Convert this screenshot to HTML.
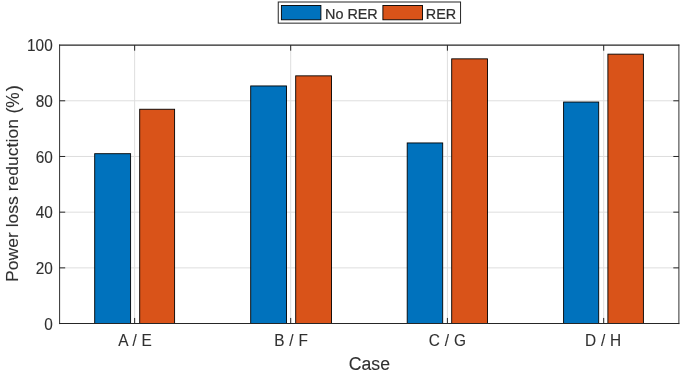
<!DOCTYPE html>
<html><head><meta charset="utf-8"><title>Power loss reduction</title>
<style>html,body{margin:0;padding:0;background:#fff;overflow:hidden}svg{display:block;will-change:transform}text{font-family:"Liberation Sans",sans-serif;fill:#303030;stroke:#303030;stroke-width:0.1}</style></head><body>
<svg width="685" height="371" viewBox="0 0 685 371">
<rect x="0" y="0" width="685" height="371" fill="#ffffff"/>
<g stroke="#dedede" stroke-width="1" fill="none">
<line x1="59.60" y1="267.86" x2="678.90" y2="267.86"/>
<line x1="59.60" y1="212.17" x2="678.90" y2="212.17"/>
<line x1="59.60" y1="156.48" x2="678.90" y2="156.48"/>
<line x1="59.60" y1="100.79" x2="678.90" y2="100.79"/>
<line x1="134.65" y1="45.10" x2="134.65" y2="323.55"/>
<line x1="290.70" y1="45.10" x2="290.70" y2="323.55"/>
<line x1="447.40" y1="45.10" x2="447.40" y2="323.55"/>
<line x1="603.70" y1="45.10" x2="603.70" y2="323.55"/>
</g>
<g stroke="#000000" stroke-width="0.9">
<rect x="94.70" y="153.70" width="35.90" height="169.85" fill="#0072bd"/>
<rect x="139.70" y="109.25" width="34.90" height="214.30" fill="#d95319"/>
<rect x="250.70" y="85.95" width="35.80" height="237.60" fill="#0072bd"/>
<rect x="295.70" y="75.85" width="35.80" height="247.70" fill="#d95319"/>
<rect x="407.20" y="142.95" width="35.50" height="180.60" fill="#0072bd"/>
<rect x="451.70" y="58.85" width="35.80" height="264.70" fill="#d95319"/>
<rect x="563.60" y="102.05" width="35.10" height="221.50" fill="#0072bd"/>
<rect x="607.90" y="54.15" width="35.50" height="269.40" fill="#d95319"/>
</g>
<g stroke="#262626" stroke-width="1" fill="none">
<path d="M59.60 44.55V324.10M678.90 44.55V324.10" stroke-width="0.95"/>
<path d="M59.13 45.10H679.37M59.13 323.55H679.37" stroke-width="1.1"/>
<line x1="134.65" y1="323.55" x2="134.65" y2="317.95"/>
<line x1="134.65" y1="45.10" x2="134.65" y2="50.70"/>
<line x1="290.70" y1="323.55" x2="290.70" y2="317.95"/>
<line x1="290.70" y1="45.10" x2="290.70" y2="50.70"/>
<line x1="447.40" y1="323.55" x2="447.40" y2="317.95"/>
<line x1="447.40" y1="45.10" x2="447.40" y2="50.70"/>
<line x1="603.70" y1="323.55" x2="603.70" y2="317.95"/>
<line x1="603.70" y1="45.10" x2="603.70" y2="50.70"/>
<line x1="59.60" y1="267.86" x2="65.20" y2="267.86"/>
<line x1="678.90" y1="267.86" x2="673.30" y2="267.86"/>
<line x1="59.60" y1="212.17" x2="65.20" y2="212.17"/>
<line x1="678.90" y1="212.17" x2="673.30" y2="212.17"/>
<line x1="59.60" y1="156.48" x2="65.20" y2="156.48"/>
<line x1="678.90" y1="156.48" x2="673.30" y2="156.48"/>
<line x1="59.60" y1="100.79" x2="65.20" y2="100.79"/>
<line x1="678.90" y1="100.79" x2="673.30" y2="100.79"/>
</g>
<g font-size="15.4" text-anchor="end">
<text transform="translate(52.75,330.13) scale(1,1.02)">0</text>
<text transform="translate(52.75,274.00) scale(1,1.02)">20</text>
<text transform="translate(52.75,217.92) scale(1,1.02)">40</text>
<text transform="translate(52.75,163.13) scale(1,1.02)">60</text>
<text transform="translate(52.75,107.37) scale(1,1.02)">80</text>
<text transform="translate(52.75,50.89) scale(1,1.02)">100</text>
</g>
<g font-size="15.4" text-anchor="middle">
<text transform="translate(135.00,346.2) scale(1,1.02)" word-spacing="0.6">A / E</text>
<text transform="translate(291.05,346.2) scale(1,1.02)" word-spacing="0.6">B / F</text>
<text transform="translate(447.35,346.2) scale(1,1.02)" word-spacing="0.6">C / G</text>
<text transform="translate(603.10,346.2) scale(1,1.02)" word-spacing="0.6">D / H</text>
</g>
<text x="369.4" y="369.9" font-size="17.65" text-anchor="middle">Case</text>
<text transform="translate(18.4,281.98) rotate(-90) scale(1,0.98)" font-size="17.57">Power loss reduction</text>
<text transform="translate(18.8,113.5) rotate(-90) scale(1,1.005)" font-size="18.2">(</text>
<text transform="translate(19.15,107.65) rotate(-90) scale(1,1.10)" font-size="17.3">%</text>
<text transform="translate(18.8,91.26) rotate(-90) scale(1,1.005)" font-size="18.2">)</text>
<rect x="278.25" y="2.0" width="182.3" height="21.15" fill="#ffffff" stroke="#262626" stroke-width="1"/>
<rect x="281.4" y="5.5" width="39.5" height="14.3" fill="#0072bd" stroke="#000" stroke-width="0.9"/>
<rect x="382.9" y="5.5" width="39.6" height="14.3" fill="#d95319" stroke="#000" stroke-width="0.9"/>
<text transform="translate(325,18.9) scale(1,1.02)" font-size="14.4" style="stroke-width:0.22">No RER</text>
<text transform="translate(425.8,18.9) scale(1,1.02)" font-size="14.4" style="stroke-width:0.22">RER</text>
</svg></body></html>
